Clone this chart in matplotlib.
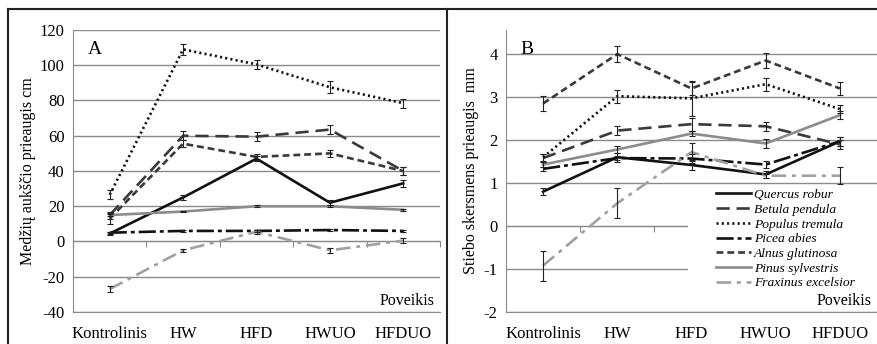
import matplotlib
matplotlib.use("Agg")
import matplotlib.pyplot as plt
from matplotlib.lines import Line2D
from matplotlib.patches import Rectangle
import numpy as np

plt.rcParams["font.family"] = ["Liberation Serif", "DejaVu Serif"]

categories = ["Kontrolinis", "HW", "HFD", "HWUO", "HFDUO"]
species = ["Quercus robur", "Betula pendula", "Populus tremula", "Picea abies",
           "Alnus glutinosa", "Pinus sylvestris", "Fraxinus excelsior"]

# A: height increment, cm
height_quercus = [4.5, 25, 47, 22, 33]
height_betula = [15, 60, 59.5, 63.5, 40]
height_populus = [26.5, 109, 100.5, 87.5, 78.5]
height_picea = [5, 6, 6, 6.5, 6]
height_alnus = [13, 55.5, 48, 50, 40]
height_pinus = [15, 17, 20, 20, 18]
height_fraxinus = [-27, -5, 5.5, -5, 0.5]

height_err_quercus = [1, 1.5, 1.5, 1.5, 2]
height_err_betula = [2, 2.5, 2.5, 2.5, 2]
height_err_populus = [2.5, 3, 2.5, 3.5, 2.5]
height_err_picea = [0.5, 0.5, 0.5, 0.5, 0.5]
height_err_alnus = [3, 2, 1.5, 2, 2]
height_err_pinus = [0.5, 0.5, 0.5, 0.5, 0.5]
height_err_fraxinus = [1.5, 1, 1, 1.5, 1.5]

# B: stem diameter increment, mm
diam_quercus = [0.8, 1.6, 1.42, 1.2, 1.97]
diam_betula = [1.58, 2.22, 2.37, 2.32, 1.9]
diam_populus = [1.6, 3.02, 2.97, 3.3, 2.72]
diam_picea = [1.33, 1.58, 1.57, 1.43, 1.97]
diam_alnus = [2.85, 4.0, 3.2, 3.85, 3.2]
diam_pinus = [1.43, 1.78, 2.15, 1.92, 2.58]
diam_fraxinus = [-0.92, 0.53, 1.72, 1.17, 1.17]

diam_err_quercus = [0.08, 0.1, 0.12, 0.08, 0.1]
diam_err_betula = [0.1, 0.1, 0.15, 0.1, 0.1]
diam_err_populus = [0.08, 0.15, 0.4, 0.15, 0.1]
diam_err_picea = [0.05, 0.05, 0.1, 0.08, 0.1]
diam_err_alnus = [0.17, 0.18, 0.15, 0.18, 0.15]
diam_err_pinus = [0.05, 0.08, 0.05, 0.1, 0.1]
diam_err_fraxinus = [0.35, 0.35, 0.2, 0.05, 0.2]

height = [height_quercus, height_betula, height_populus, height_picea,
          height_alnus, height_pinus, height_fraxinus]
height_err = [height_err_quercus, height_err_betula, height_err_populus, height_err_picea,
              height_err_alnus, height_err_pinus, height_err_fraxinus]
diam = [diam_quercus, diam_betula, diam_populus, diam_picea,
        diam_alnus, diam_pinus, diam_fraxinus]
diam_err = [diam_err_quercus, diam_err_betula, diam_err_populus, diam_err_picea,
            diam_err_alnus, diam_err_pinus, diam_err_fraxinus]

styles = [
    dict(color="#111111", ls="-"),
    dict(color="#3a3a3a", ls=(0, (5.0, 2.6))),
    dict(color="#111111", ls=(0, (0.8, 1.2))),
    dict(color="#111111", ls=(0, (6.5, 1.5, 1.5, 1.5))),
    dict(color="#3a3a3a", ls=(0, (2.6, 1.5))),
    dict(color="#8c8c8c", ls="-"),
    dict(color="#a0a0a0", ls=(0, (5.5, 2.2, 1.5, 2.2))),
]

W, H = 877, 344
fig = plt.figure(figsize=(W / 100, H / 100), dpi=100)

grid_c = "#8a8a8a"
x = np.arange(len(categories))


def setup_axes(ax, ylim, yticks, zero_frac, ylabel, letter):
    ax.set_xlim(-0.5, 4.5)
    ax.set_ylim(*ylim)
    ax.set_yticks(yticks)
    ax.set_yticklabels([f"{t:g}" for t in yticks])
    ax.yaxis.grid(True, color=grid_c, lw=1.0, zorder=0)
    ax.set_xticks(x)
    ax.set_xticklabels(categories)
    ax.tick_params(axis="x", length=0, pad=10, labelsize=12)
    ax.tick_params(axis="y", length=0, pad=6, labelsize=12)
    for s in ["top", "right"]:
        ax.spines[s].set_visible(False)
    ax.spines["left"].set_color(grid_c)
    ax.spines["bottom"].set_color(grid_c)
    ax.set_ylabel(ylabel, fontsize=11.5, labelpad=3)
    # category axis crossing at zero
    sec = ax.secondary_xaxis(zero_frac)
    sec.set_xticks(np.arange(-0.5, 5.0, 1.0))
    sec.set_xticklabels([])
    sec.tick_params(length=4, color=grid_c, direction="out")
    sec.spines["bottom"].set_color(grid_c)
    sec.set_zorder(1)
    ax.text(0.04, 0.93, letter, transform=ax.transAxes, fontsize=14, va="center")
    ax.text(0.985, 0.04, "Poveikis", transform=ax.transAxes, fontsize=11.5,
            ha="right", va="center")


# Panel A
axA = fig.add_axes([73 / W, 1 - 312 / H, 367 / W, 282 / H])
setup_axes(axA, (-40, 120), np.arange(-40, 121, 20), 0.25,
           "Medžių aukščio prieaugis cm", "A")
for vals, errs, st in zip(height, height_err, styles):
    axA.plot(x, vals, lw=1.9, zorder=3, **st)
    axA.errorbar(x, vals, yerr=errs, fmt="none", ecolor="#222222", elinewidth=0.8,
                 capsize=2.5, capthick=0.8, zorder=4)

# Panel B
axB = fig.add_axes([506 / W, 1 - 312 / H, 371 / W, 282 / H])
setup_axes(axB, (-2, 4.56), np.arange(-2, 5, 1), 2 / 6.56,
           "Stiebo skersmens prieaugis  mm", "B")
handles = []
for vals, errs, st, name in zip(diam, diam_err, styles, species):
    h, = axB.plot(x, vals, lw=1.9, zorder=3, label=name, **st)
    axB.errorbar(x, vals, yerr=errs, fmt="none", ecolor="#222222", elinewidth=0.8,
                 capsize=2.5, capthick=0.8, zorder=4)
    handles.append(h)

# white legend area hides gridlines on the right
axB.add_patch(Rectangle((0.49, 0.1), 0.51, 0.345, transform=axB.transAxes,
                        facecolor="white", edgecolor="none", zorder=4.5))
leg = axB.legend(handles=handles, loc="upper left", bbox_to_anchor=(0.56, 0.447),
                 frameon=False,
                 prop=dict(family="Liberation Serif", style="italic", size=9.7),
                 handlelength=2.6, handletextpad=0.2, labelspacing=0.17,
                 borderpad=0.2, borderaxespad=0)
leg.set_zorder(5)

# panel frames
frame_kw = dict(color="#222222", lw=1.5, transform=fig.transFigure)
fig.add_artist(Line2D([8 / W, 1], [1 - 9 / H, 1 - 9 / H], **frame_kw))
fig.add_artist(Line2D([8 / W, 8 / W], [0, 1 - 9 / H], **frame_kw))
fig.add_artist(Line2D([447 / W, 447 / W], [0, 1 - 9 / H], **frame_kw))

fig.savefig("out.png", dpi=100)
